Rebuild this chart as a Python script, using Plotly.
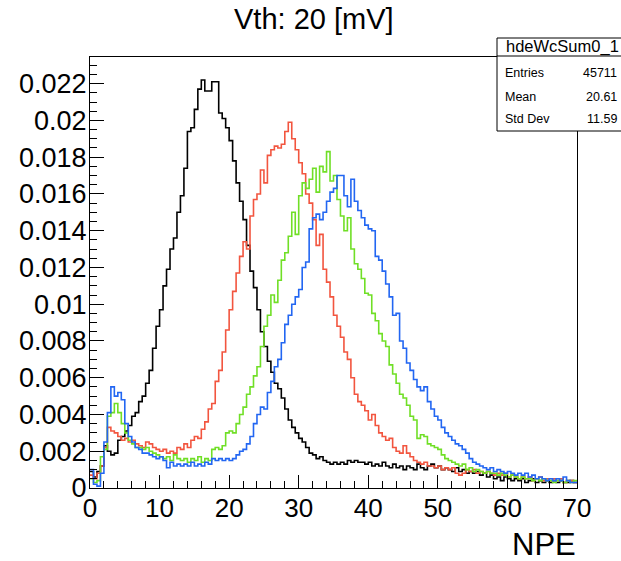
import numpy as np
import plotly.graph_objects as go

# ---------------- data (normalised NPE histograms, bin width 0.5 from 0 to 70) ----------------
bin_width = 0.5
x_min, x_max = 0.0, 70.0

black_vals = [
    0.0009, 0.0006, 0.0009, 0.0012, 0.0023, 0.0020, 0.0018, 0.0019, 0.0026, 0.0028,
    0.0031, 0.0034, 0.0039, 0.0041, 0.0047, 0.0050, 0.0057, 0.0064, 0.0076, 0.0088,
    0.0097, 0.0110, 0.0119, 0.0130, 0.0136, 0.0150, 0.0159, 0.0174, 0.0194, 0.0196,
    0.0206, 0.0217, 0.0222, 0.0216, 0.0216, 0.0221, 0.0221, 0.0204, 0.0201, 0.0196,
    0.0189, 0.0178, 0.0166, 0.0156, 0.0146, 0.0132, 0.0118, 0.0109, 0.0097, 0.0085,
    0.0077, 0.0069, 0.0063, 0.0057, 0.0054, 0.0049, 0.0043, 0.0037, 0.0033, 0.0030,
    0.0027, 0.0025, 0.0022, 0.0019, 0.0018, 0.0016, 0.0017, 0.0015, 0.0014, 0.0013,
    0.0014, 0.0013, 0.0014, 0.0013, 0.0015, 0.0014, 0.0015, 0.0014, 0.0014, 0.0013,
    0.0014, 0.0012, 0.0013, 0.0012, 0.0014, 0.0012, 0.0011, 0.0013, 0.0011, 0.0012,
    0.0010, 0.0012, 0.0011, 0.0010, 0.0013, 0.0011, 0.0010, 0.0012, 0.0013, 0.0011,
    0.0012, 0.0010, 0.0011, 0.0010, 0.0009, 0.0011, 0.0009, 0.0010, 0.0008, 0.0009,
    0.0008, 0.0009, 0.0007, 0.0008, 0.0006, 0.0007, 0.0005, 0.0006, 0.0004, 0.0006,
    0.0005, 0.0004, 0.0005, 0.0004, 0.0005, 0.0003, 0.0004, 0.0005, 0.0003, 0.0004,
    0.0003, 0.0004, 0.0003, 0.0004, 0.0003, 0.0004, 0.0003, 0.0003, 0.0004, 0.0003,
]

red_vals = [
    0.0007, 0.0005, 0.0008, 0.0012, 0.0022, 0.0033, 0.0031, 0.0030, 0.0028, 0.0026,
    0.0027, 0.0025, 0.0026, 0.0024, 0.0023, 0.0022, 0.0025, 0.0024, 0.0022, 0.0021,
    0.0020, 0.0021, 0.0019, 0.0020, 0.0019, 0.0022, 0.0021, 0.0024, 0.0022, 0.0026,
    0.0028, 0.0027, 0.0032, 0.0036, 0.0043, 0.0046, 0.0058, 0.0064, 0.0074, 0.0086,
    0.0097, 0.0107, 0.0117, 0.0126, 0.0134, 0.0130, 0.0148, 0.0157, 0.0160, 0.0173,
    0.0166, 0.0181, 0.0184, 0.0186, 0.0185, 0.0187, 0.0194, 0.0199, 0.0190, 0.0184,
    0.0177, 0.0171, 0.0160, 0.0155, 0.0146, 0.0132, 0.0138, 0.0119, 0.0112, 0.0104,
    0.0094, 0.0088, 0.0082, 0.0074, 0.0070, 0.0060, 0.0051, 0.0047, 0.0045, 0.0042,
    0.0037, 0.0040, 0.0034, 0.0030, 0.0028, 0.0026, 0.0027, 0.0022, 0.0020, 0.0019,
    0.0023, 0.0019, 0.0017, 0.0015, 0.0014, 0.0013, 0.0014, 0.0012, 0.0012, 0.0011,
    0.0012, 0.0010, 0.0011, 0.0010, 0.0011, 0.0008, 0.0007, 0.0008, 0.0010, 0.0009,
    0.0010, 0.0008, 0.0009, 0.0008, 0.0009, 0.0008, 0.0007, 0.0008, 0.0007, 0.0008,
    0.0006, 0.0007, 0.0006, 0.0005, 0.0006, 0.0005, 0.0006, 0.0004, 0.0005, 0.0006,
    0.0004, 0.0005, 0.0004, 0.0005, 0.0004, 0.0005, 0.0003, 0.0004, 0.0004, 0.0003,
]

green_vals = [
    0.0005, 0.0003, 0.0004, 0.0017, 0.0021, 0.0039, 0.0041, 0.0046, 0.0041, 0.0035,
    0.0030, 0.0026, 0.0024, 0.0022, 0.0022, 0.0021, 0.0022, 0.0020, 0.0019, 0.0018,
    0.0017, 0.0016, 0.0017, 0.0015, 0.0018, 0.0016, 0.0015, 0.0016, 0.0014, 0.0016,
    0.0015, 0.0017, 0.0014, 0.0016, 0.0015, 0.0021, 0.0022, 0.0021, 0.0023, 0.0030,
    0.0031, 0.0030, 0.0035, 0.0040, 0.0044, 0.0051, 0.0055, 0.0061, 0.0066, 0.0077,
    0.0088, 0.0094, 0.0105, 0.0101, 0.0113, 0.0124, 0.0128, 0.0137, 0.0150, 0.0138,
    0.0159, 0.0166, 0.0163, 0.0168, 0.0174, 0.0161, 0.0175, 0.0172, 0.0183, 0.0167,
    0.0170, 0.0157, 0.0148, 0.0140, 0.0147, 0.0130, 0.0122, 0.0119, 0.0114, 0.0106,
    0.0105, 0.0095, 0.0091, 0.0084, 0.0080, 0.0077, 0.0067, 0.0062, 0.0057, 0.0051,
    0.0049, 0.0045, 0.0039, 0.0037, 0.0027, 0.0029, 0.0028, 0.0024, 0.0023, 0.0022,
    0.0021, 0.0018, 0.0016, 0.0015, 0.0014, 0.0013, 0.0012, 0.0013, 0.0010, 0.0011,
    0.0009, 0.0010, 0.0009, 0.0008, 0.0009, 0.0008, 0.0008, 0.0007, 0.0008, 0.0007,
    0.0006, 0.0007, 0.0006, 0.0005, 0.0006, 0.0005, 0.0005, 0.0004, 0.0005, 0.0004,
    0.0005, 0.0004, 0.0004, 0.0003, 0.0004, 0.0004, 0.0003, 0.0004, 0.0003, 0.0004,
]

blue_vals = [
    0.0010, 0.0002, 0.0001, 0.0008, 0.0025, 0.0041, 0.0055, 0.0050, 0.0052, 0.0048,
    0.0035, 0.0028, 0.0025, 0.0022, 0.0021, 0.0019, 0.0019, 0.0018, 0.0017, 0.0016,
    0.0017, 0.0015, 0.0011, 0.0014, 0.0012, 0.0013, 0.0012, 0.0013, 0.0012, 0.0014,
    0.0012, 0.0013, 0.0012, 0.0014, 0.0013, 0.0016, 0.0015, 0.0016, 0.0015, 0.0016,
    0.0015, 0.0016, 0.0018, 0.0020, 0.0021, 0.0024, 0.0028, 0.0035, 0.0040, 0.0044,
    0.0043, 0.0052, 0.0058, 0.0066, 0.0070, 0.0079, 0.0089, 0.0094, 0.0100, 0.0104,
    0.0108, 0.0120, 0.0123, 0.0141, 0.0147, 0.0149, 0.0146, 0.0150, 0.0156, 0.0161,
    0.0163, 0.0170, 0.0170, 0.0159, 0.0153, 0.0168, 0.0156, 0.0151, 0.0147, 0.0143,
    0.0141, 0.0140, 0.0126, 0.0124, 0.0118, 0.0111, 0.0104, 0.0094, 0.0095, 0.0080,
    0.0076, 0.0068, 0.0064, 0.0059, 0.0055, 0.0053, 0.0055, 0.0047, 0.0043, 0.0039,
    0.0037, 0.0033, 0.0030, 0.0028, 0.0026, 0.0024, 0.0023, 0.0021, 0.0019, 0.0016,
    0.0014, 0.0013, 0.0012, 0.0011, 0.0010, 0.0011, 0.0009, 0.0010, 0.0009, 0.0008,
    0.0009, 0.0008, 0.0007, 0.0008, 0.0007, 0.0008, 0.0006, 0.0007, 0.0005, 0.0006,
    0.0005, 0.0004, 0.0005, 0.0004, 0.0005, 0.0004, 0.0006, 0.0004, 0.0003, 0.0003,
]

y_tick_vals = [0, 0.002, 0.004, 0.006, 0.008, 0.010, 0.012, 0.014, 0.016, 0.018, 0.020, 0.022]
y_tick_text = ["0", "0.002", "0.004", "0.006", "0.008", "0.01", "0.012", "0.014",
               "0.016", "0.018", "0.02", "0.022"]
x_tick_vals = [0, 10, 20, 30, 40, 50, 60, 70]
x_tick_text = ["0", "10", "20", "30", "40", "50", "60", "70"]

title_text = "Vth: 20 [mV]"
x_title = "NPE"
stats_name = "hdeWcSum0_1"
stats_labels = ["Entries", "Mean", "Std Dev"]
stats_values = ["45711", "20.61", "11.59"]

series = [
    (black_vals, "#000000"),
    (red_vals, "#f2553f"),
    (green_vals, "#70df26"),
    (blue_vals, "#2266f2"),
]

# ---------------- figure ----------------
# the page body margin is removed (post_script), so figure pixels == window pixels
W, H = 621, 561
ML, MR, MT, MB = 90, 44, 57, 73
FONT = "Liberation Sans, Arial, Helvetica, sans-serif"
y_max = 0.02345

fig = go.Figure()
for vals, color in series:
    n = len(vals)
    edges = x_min + bin_width * np.arange(n + 1)
    ys = list(vals) + [vals[-1]]
    fig.add_trace(go.Scatter(
        x=edges, y=ys, mode="lines", line=dict(shape="hv", color=color, width=1.6),
        hoverinfo="skip", showlegend=False,
    ))

fig.update_layout(
    width=W, height=H,
    margin=dict(l=ML, r=MR, t=MT, b=MB, pad=0),
    paper_bgcolor="white", plot_bgcolor="white",
    font=dict(family=FONT, color="black"),
    showlegend=False,
)

fig.update_xaxes(
    range=[x_min, x_max], showgrid=False, zeroline=False,
    showline=True, mirror=True, linecolor="black", linewidth=1,
    ticks="inside", ticklen=13, tickwidth=1, tickcolor="black",
    tickvals=x_tick_vals, ticktext=x_tick_text,
    tickfont=dict(size=26, family=FONT), ticklabelstandoff=-3,
    minor=dict(dtick=2, tick0=0, ticks="inside", ticklen=7, tickcolor="black", showgrid=False),
)
fig.update_yaxes(
    range=[0, y_max], showgrid=False, zeroline=False,
    showline=True, mirror=True, linecolor="black", linewidth=1,
    ticks="inside", ticklen=14, tickwidth=1, tickcolor="black",
    tickvals=y_tick_vals, ticktext=y_tick_text,
    tickfont=dict(size=27, family=FONT), ticklabelstandoff=-3,
    minor=dict(dtick=0.0005, tick0=0, ticks="inside", ticklen=7, tickcolor="black", showgrid=False),
)

plot_w = W - ML - MR
plot_h = H - MT - MB


def px(xs):
    """window x pixel -> paper coordinate"""
    return (xs - ML) / plot_w


def py(ys):
    """window y pixel -> paper coordinate"""
    return (H - MB - ys) / plot_h


annotations = [
    dict(text=title_text, x=px(314), y=py(19), xref="paper", yref="paper",
         xanchor="center", yanchor="middle", showarrow=False,
         font=dict(size=29, family=FONT)),
    dict(text=x_title, x=px(578), y=py(544), xref="paper", yref="paper",
         xanchor="right", yanchor="middle", showarrow=False,
         font=dict(size=31, family=FONT)),
]

# statistics box
box_l, box_r, box_t, box_sep, box_b = 497, 660, 38, 56, 131
shapes = [
    dict(type="rect", xref="paper", yref="paper", x0=px(box_l), x1=px(box_r),
         y0=py(box_b), y1=py(box_t), line=dict(color="black", width=1), fillcolor="white",
         layer="above"),
    dict(type="line", xref="paper", yref="paper", x0=px(box_l), x1=px(box_r),
         y0=py(box_sep), y1=py(box_sep), line=dict(color="black", width=1), layer="above"),
]
annotations.append(dict(text=stats_name, x=px(504), y=py(47), xref="paper", yref="paper",
                        xanchor="left", yanchor="middle", showarrow=False,
                        font=dict(size=16.5, family=FONT)))
row_y = [73, 97, 119]
for lab, val, yy in zip(stats_labels, stats_values, row_y):
    annotations.append(dict(text=lab, x=px(503), y=py(yy), xref="paper", yref="paper",
                            xanchor="left", yanchor="middle", showarrow=False,
                            font=dict(size=12.5, family=FONT)))
    annotations.append(dict(text=val, x=px(619), y=py(yy), xref="paper", yref="paper",
                            xanchor="right", yanchor="middle", showarrow=False,
                            font=dict(size=12.5, family=FONT)))

fig.update_layout(annotations=annotations, shapes=shapes)

fig.write_html(
    "out.html",
    config={"displayModeBar": False, "staticPlot": True},
    post_script="document.body.style.margin='0';document.body.style.overflow='hidden';",
)
